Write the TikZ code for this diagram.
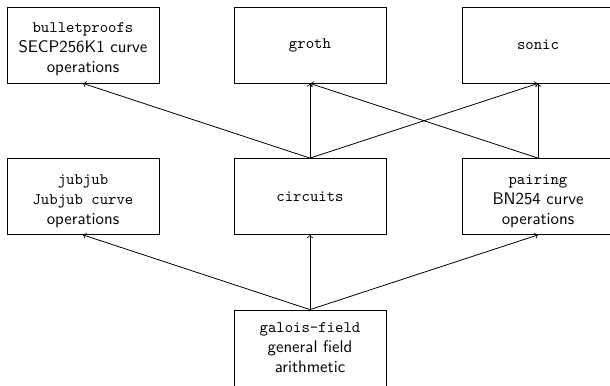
\documentclass[tikz,border=0pt]{standalone}
\usepackage{fontspec}
% crate names in typewriter type, kept at 10pt inside the larger sans text
\newcommand\cratename[1]{{\fontsize{10}{12.5}\selectfont\ttfamily #1}}
\newcommand\toppad{\rule{0pt}{12pt}}
\begin{document}
\begin{tikzpicture}[x=0.625pt, y=-0.625pt,
  crate/.style={draw, line width=0.5pt, minimum width=95pt, minimum height=47.5pt,
    align=center, inner sep=2pt, font=\sffamily\fontsize{10.5}{12.5}\selectfont},
  dep/.style={->, line width=0.5pt}]
  \clip (0,0) rectangle (610,385);
  % top row
  \node[crate] (bp) at (83,45) {\toppad\cratename{bulletproofs}\\SECP256K1 curve\\operations};
  \node[crate] (groth) at (310,45) {\cratename{groth}};
  \node[crate] (sonic) at (538,45) {\cratename{sonic}};
  % middle row
  \node[crate] (jj) at (83,196.5) {\toppad\cratename{jubjub}\\\cratename{Jubjub curve}\\operations};
  \node[crate] (circ) at (310,196.5) {\cratename{circuits}};
  \node[crate] (pair) at (538,196.5) {\toppad\cratename{pairing}\\BN254 curve\\operations};
  % base crate
  \node[crate] (gf) at (310,348) {\cratename{galois-field}\\general field\\arithmetic};
  % dependencies
  \draw[dep] (gf.north) -- (jj.south);
  \draw[dep] (gf.north) -- (circ.south);
  \draw[dep] (gf.north) -- (pair.south);
  \draw[dep] (circ.north) -- (bp.south);
  \draw[dep] (circ.north) -- (groth.south);
  \draw[dep] (circ.north) -- (sonic.south);
  \draw[dep] (pair.north) -- (groth.south);
  \draw[dep] (pair.north) -- (sonic.south);
\end{tikzpicture}
\end{document}
